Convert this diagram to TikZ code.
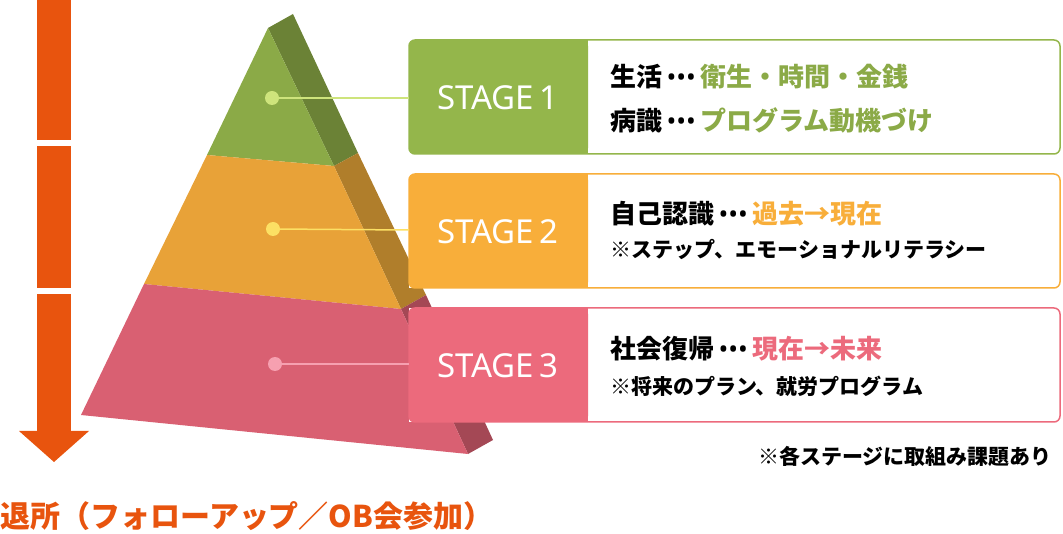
\documentclass[tikz,border=0pt]{standalone}
\usepackage{fontspec}
\setmainfont{Noto Sans CJK JP}
\newfontfamily\lat{Noto Sans}
\newcommand{\ddd}{{\lat\,•••\,}}
\begin{document}
\begin{tikzpicture}[x=1pt,y=-1pt,
  dot/.style={circle,inner sep=0pt,minimum size=14pt},
  lab/.style={font=\fontsize{33}{36}\selectfont\lat,text=white,anchor=center},
  main/.style={font=\fontsize{26}{30}\selectfont\bfseries,anchor=west,inner sep=0pt},
  small/.style={font=\fontsize{21}{24}\selectfont\bfseries,anchor=west,inner sep=0pt}]
\definecolor{gA}{HTML}{94B64B}\definecolor{gF}{HTML}{8BAA47}\definecolor{gS}{HTML}{6B8236}
\definecolor{oA}{HTML}{F8AE3A}\definecolor{oF}{HTML}{E8A238}\definecolor{oS}{HTML}{B07E2B}
\definecolor{pA}{HTML}{EC6A7C}\definecolor{pF}{HTML}{D96072}\definecolor{pS}{HTML}{A44855}
\definecolor{ar}{HTML}{E8540E}
\useasboundingbox (0,0) rectangle (1063,534);
% arrow
\fill[ar] (37,0) rectangle (71,140);
\fill[ar] (37,146) rectangle (71,288);
\fill[ar] (37,294) rectangle (71,432);
\fill[ar] (19,431) -- (89,431) -- (54,462) -- cycle;
% pyramid side
\fill[gS] (268,28) -- (293,14) -- (358,153) -- (334,166) -- cycle;
\fill[oS] (334,166) -- (358,153) -- (426,295) -- (401,309) -- cycle;
\fill[pS] (401,309) -- (426,295) -- (493,440) -- (468,454) -- cycle;
% front
\fill[gF] (268,28) -- (334,166) -- (207,155) -- cycle;
\fill[oF] (207,155) -- (334,166) -- (401,309) -- (144,284) -- cycle;
\fill[pF] (144,284) -- (401,309) -- (468,454) -- (81,415) -- cycle;
% boxes
\foreach \c/\t/\b/\n in {gA/40/154/1,oA/174/288/2,pA/308/422/3}{
  \fill[white] (409,\t) rectangle (1060,\b);
  \draw[\c,line width=1.5pt,rounded corners=6pt] (409,\t) rectangle (1060,\b);
  \fill[\c,rounded corners=6pt] (409,\t) -- (409,\b) -- (588,\b) -- (588,\t) -- cycle;
  \fill[\c] (580,\t) rectangle (588,\b);
}
\node[lab] (b1) at (498,98) {STAGE\,1};
\node[lab] (b2) at (498,232) {STAGE\,2};
\node[lab] (b3) at (498,366) {STAGE\,3};
\coordinate (e1) at (409,98); \coordinate (e2) at (409,230); \coordinate (e3) at (409,364);
\node[dot,fill={rgb,255:red,206;green,228;blue,124}] (d1) at (272,98) {};
\node[dot,fill={rgb,255:red,252;green,224;blue,100}] (d2) at (273,229) {};
\node[dot,fill={rgb,255:red,246;green,160;blue,176}] (d3) at (275,364) {};
\draw[line width=1.5pt,color={rgb,255:red,206;green,228;blue,124}] (d1) -- (e1);
\draw[line width=1.5pt,color={rgb,255:red,252;green,224;blue,100}] (d2) -- (e2);
\draw[line width=1.5pt,color={rgb,255:red,246;green,160;blue,176}] (d3) -- (e3);
% texts
\node[main] (t1) at (610,77) {生活\ddd\textcolor{gF}{衛生・時間・金銭}};
\node[main] (t2) at (610,120) {病識\ddd\textcolor{gF}{プログラム動機づけ}};
\node[main] (t3) at (610,214) {自己認識\ddd\textcolor{oA}{過去→現在}};
\node[small] (t4) at (610,250) {※ステップ、エモーショナルリテラシー};
\node[main] (t5) at (610,349) {社会復帰\ddd\textcolor{pA}{現在→未来}};
\node[small] (t6) at (610,386) {※将来のプラン、就労プログラム};
\node[small,anchor=east] (t7) at (1052,456) {※各ステージに取組み課題あり};
\node[font=\fontsize{30}{34}\selectfont\bfseries,text=ar,anchor=west,inner sep=0pt] (t8) at (0,516) {退所（フォローアップ／OB会参加）};
\end{tikzpicture}
\end{document}
